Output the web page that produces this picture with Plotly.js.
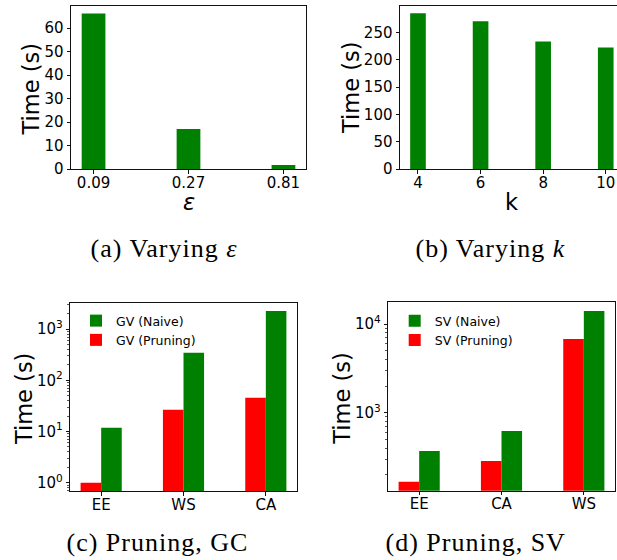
<!DOCTYPE html>
<html><head><meta charset="utf-8">
<script src="https://cdn.plot.ly/plotly-3.0.1.min.js"></script>
<style>
html,body{margin:0;padding:0;background:#fff;overflow:hidden}
#chart{width:617px;height:560px}
text.annotation-text.caption{letter-spacing:1px}
</style>
</head><body><div id="chart"></div>
<script>
// ---- data ----
const epsCategories = ['0.09', '0.27', '0.81'];
const epsTimes = [66.2, 17.0, 1.7];
const kValues = [4, 6, 8, 10];
const kTimes = [285.5, 271, 234, 223];
const gcDatasets = ['EE', 'WS', 'CA'];
const gcNaive = [11.9, 346, 2260];
const gcPruning = [1.0, 26.6, 45.7];
const svDatasets = ['EE', 'CA', 'WS'];
const svNaive = [370, 622, 14000];
const svPruning = [166, 285, 6780];
const epsTickVals = [0, 10, 20, 30, 40, 50, 60];
const kTimeTickVals = [0, 50, 100, 150, 200, 250];
const gcTickVals = [1, 10, 100, 1000];
const gcTickText = ['10<sup>0</sup>', '10<sup>1</sup>', '10<sup>2</sup>', '10<sup>3</sup>'];
const svTickVals = [1000, 10000];
const svTickText = ['10<sup>3</sup>', '10<sup>4</sup>'];
const yLabel = 'Time (s)';
const xLabels = ['<i>ε</i>', 'k'];
const captions = ['(a) Varying <i>ε</i>', '(b) Varying <i>k</i>', '(c) Pruning, GC', '(d) Pruning, SV'];

const GREEN = '#008000', RED = '#ff0000';
const W = 617, H = 560;
const px = v => v / W;
const py = v => 1 - v / H;

function minorLogTicks(lo, hi) {
  const out = [];
  for (let d = Math.floor(lo); d <= Math.ceil(hi); d++) {
    for (let m = 2; m <= 9; m++) {
      const v = m * Math.pow(10, d);
      const l = Math.log10(v);
      if (l > lo && l < hi) out.push(v);
    }
  }
  return out;
}

const tickFont = {family: 'DejaVu Sans', size: 15, color: '#000'};
const base = {
  showline: true, linecolor: '#111', linewidth: 1, mirror: true,
  ticks: 'outside', ticklen: 3.5, tickwidth: 1, tickcolor: '#111',
  showgrid: false, zeroline: false, tickfont: tickFont, fixedrange: true
};
const xBase = Object.assign({}, base, {ticklabelstandoff: -4});

const gcRange = [Math.log10(0.689), Math.log10(3280)];
const svRange = [Math.log10(132), Math.log10(17580)];

const traces = [
  {type: 'bar', x: epsCategories, y: epsTimes, width: 0.25, marker: {color: GREEN}, xaxis: 'x', yaxis: 'y', showlegend: false},
  {type: 'bar', x: kValues, y: kTimes, width: 0.5, marker: {color: GREEN}, xaxis: 'x2', yaxis: 'y2', showlegend: false},
  {type: 'bar', name: 'GV (Naive)', x: gcDatasets, y: gcNaive, width: 0.25, offset: 0, marker: {color: GREEN}, xaxis: 'x3', yaxis: 'y3', legend: 'legend'},
  {type: 'bar', name: 'GV (Pruning)', x: gcDatasets, y: gcPruning, width: 0.25, offset: -0.25, marker: {color: RED}, xaxis: 'x3', yaxis: 'y3', legend: 'legend'},
  {type: 'bar', name: 'SV (Naive)', x: svDatasets, y: svNaive, width: 0.25, offset: 0, marker: {color: GREEN}, xaxis: 'x4', yaxis: 'y4', legend: 'legend2'},
  {type: 'bar', name: 'SV (Pruning)', x: svDatasets, y: svPruning, width: 0.25, offset: -0.25, marker: {color: RED}, xaxis: 'x4', yaxis: 'y4', legend: 'legend2'}
];

const legendBase = {
  bgcolor: 'rgba(0,0,0,0)', borderwidth: 0, xanchor: 'left', yanchor: 'top',
  font: {family: 'DejaVu Sans', size: 12.5, color: '#000'}, tracegroupgap: 0, traceorder: 'normal', itemwidth: 30
};
const minorStyle = {ticks: 'outside', ticklen: 2, tickwidth: 0.7, tickcolor: '#111'};

const titleFont = {family: 'DejaVu Sans', size: 22.5, color: '#000'};
const yTitleAnn = (x, y) => ({text: yLabel, x: px(x), y: py(y), textangle: -90, font: titleFont});
const capAnn = (i, x, y) => ({text: captions[i], x: px(x), y: py(y),
  font: {family: 'Liberation Serif', size: 26, color: '#000'}, _cap: true});

const layout = {
  width: W, height: H, margin: {l: 0, r: 0, t: 0, b: 0},
  paper_bgcolor: '#fff', plot_bgcolor: '#fff', barmode: 'overlay', showlegend: true,
  font: {family: 'DejaVu Sans', color: '#000'},
  xaxis: Object.assign({}, xBase, {type: 'category', domain: [px(71), px(306)], range: [-0.2375, 2.2375], anchor: 'y'}),
  yaxis: Object.assign({}, base, {domain: [py(169), py(6)], range: [0, 69.4], tickvals: epsTickVals, anchor: 'x'}),
  xaxis2: Object.assign({}, xBase, {domain: [px(400), 1], range: [3.425, 10.36], tickvals: kValues, anchor: 'y2'}),
  yaxis2: Object.assign({}, base, {mirror: false, domain: [py(169), py(6)], range: [0, 299], tickvals: kTimeTickVals, anchor: 'x2'}),
  xaxis3: Object.assign({}, xBase, {type: 'category', domain: [px(70.3), px(296.7)], range: [-0.375, 2.375], anchor: 'y3'}),
  yaxis3: Object.assign({}, base, {type: 'log', domain: [py(491), py(302.7)], range: gcRange, tickvals: gcTickVals, ticktext: gcTickText, anchor: 'x3',
    minor: Object.assign({tickvals: minorLogTicks(gcRange[0], gcRange[1])}, minorStyle)}),
  xaxis4: Object.assign({}, xBase, {type: 'category', domain: [px(388.3), px(614.7)], range: [-0.375, 2.375], anchor: 'y4'}),
  yaxis4: Object.assign({}, base, {type: 'log', domain: [py(490.7), py(302.3)], range: svRange, tickvals: svTickVals, ticktext: svTickText, anchor: 'x4',
    minor: Object.assign({tickvals: minorLogTicks(svRange[0], svRange[1])}, minorStyle)}),
  legend: Object.assign({}, legendBase, {x: px(76), y: py(306)}),
  legend2: Object.assign({}, legendBase, {x: px(394.7), y: py(306)}),
  annotations: [
    yTitleAnn(31.3, 89.2),
    yTitleAnn(350.5, 87.5),
    yTitleAnn(23.3, 398.8),
    yTitleAnn(341.7, 398),
    {text: xLabels[0], x: px(189), y: py(202), font: titleFont},
    {text: xLabels[1], x: px(511), y: py(202), font: titleFont},
    capAnn(0, 164.7, 248),
    capAnn(1, 490.5, 248),
    capAnn(2, 157, 542),
    capAnn(3, 475.5, 542)
  ].map(a => {
    delete a._cap;
    return Object.assign({xref: 'paper', yref: 'paper', xanchor: 'center', yanchor: 'middle', showarrow: false}, a);
  })
};

Plotly.newPlot('chart', traces, layout, {displayModeBar: false, staticPlot: true}).then(gd => {
  // captions: Computer Modern is wider than Times, so widen the serif captions slightly
  const anns = gd.querySelectorAll('.annotation');
  anns.forEach((g, i) => {
    if (i >= 6) {
      const t = g.querySelector('text.annotation-text');
      if (t) t.classList.add('caption');
    }
  });
});
</script>
</body></html>
